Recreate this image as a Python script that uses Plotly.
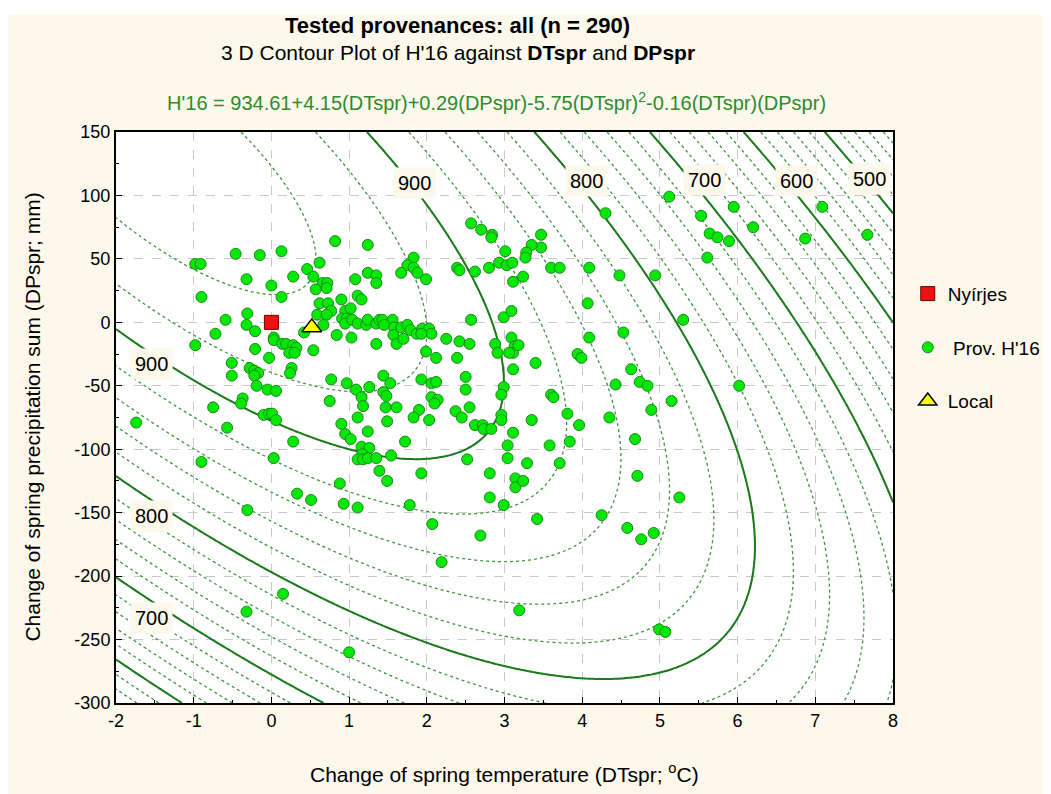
import numpy as np
import plotly.graph_objects as go

# fitted response surface: H'16 = b0 + b1*T + b2*P + b3*T^2 + b4*T*P + b5*P^2
# (the P^2 term is cut off in the printed equation; value read from the contour spacing)
surface_coefs = [934.61, 4.15, 0.29, -5.75, -0.16, -0.002]
dt_range = [-2, 8]
dp_range = [-300, 150]

x_ticks = [-2, -1, 0, 1, 2, 3, 4, 5, 6, 7, 8]
x_tick_labels = ["-2", "-1", "0", "1", "2", "3", "4", "5", "6", "7", "8"]
y_ticks = [-300, -250, -200, -150, -100, -50, 0, 50, 100, 150]
y_tick_labels = ["-300", "-250", "-200", "-150", "-100", "-50", "0", "50", "100", "150"]

# tested provenances (DTspr, DPspr)
prov_dt = [
    -0.98, -0.91, -0.46, -0.15, 0.13, 0.82, 1.24, 0.62, 0.46, -0.32,
    0.00, 0.28, 0.54, 0.66, 0.72, 0.71, 0.57, 0.13, -0.90, 1.08,
    1.24, 1.35, 1.35, 0.90, 1.11, 1.16, 0.62, 0.73, 0.77, 0.59,
    0.71, 0.95, 1.02, 0.91, 0.97, 0.95, 1.04, 1.11, 1.22, 1.24,
    1.35, -0.31, -0.59, -0.32, -0.21, 0.67, 0.84, 1.03, -0.72, -0.98,
    0.03, 0.03, 0.14, 0.19, 0.28, 0.32, 0.23, 0.30, -0.21, -0.03,
    0.54, 0.42, 1.35, 2.57, 2.70, 2.84, 2.83, 3.47, 3.47, 3.35,
    3.28, 3.27, 3.01, 1.83, 1.75, 1.83, 1.67, 1.88, 1.99, 2.39,
    2.42, 2.62, 2.80, 2.93, 3.03, 3.10, 3.11, 3.24, 3.60, 3.71,
    2.57, 2.99, 3.09, 1.39, 1.43, 1.56, 1.45, 1.58, 1.67, 1.75,
    1.79, 1.87, 1.94, 2.03, 2.06, 1.93, 1.57, 1.61, 1.70, 2.25,
    2.42, 2.55, 2.88, 2.91, 3.09, 3.13, 3.11, 3.18, 3.06, 1.99,
    2.12, 2.39, 3.40, 3.94, 5.12, 4.30, 5.53, 5.95, 5.64, 5.74,
    5.89, 6.20, 6.87, 7.09, 7.67, 4.09, 4.48, 4.94, 5.61, 4.07,
    5.30, 4.09, 4.53, 3.99, 4.63, 4.43, 4.74, 4.84, 6.02, 5.15,
    4.89, 3.81, 3.96, 3.84, 4.35, 4.68, 4.71, 5.25, 4.25, 4.58,
    4.76, 4.92, 3.71, 1.44, 1.53, 1.44, 1.48, 1.93, 2.06, 2.12,
    2.06, 2.14, 2.10, 1.47, 1.61, 1.90, 1.83, 2.03, 1.49, 2.50,
    2.50, 2.37, 2.45, 2.55, 2.62, 2.72, 2.73, 2.83, 2.96, 2.96,
    2.99, 2.96, 3.11, 3.60, 3.63, 3.11, 3.35, 1.72, 1.54, 1.39,
    2.52, 3.04, 3.04, 3.58, 3.29, 2.81, 3.14, 3.14, 3.24, 1.93,
    1.49, 2.81, 2.99, 1.78, 3.42, 3.19, 4.99, 5.07, 2.07, 2.69,
    2.19, -0.51, -0.51, -0.28, -0.22, -0.17, -0.22, -0.19, 0.26, 0.24,
    -0.05, 0.06, -0.37, -0.39, -0.75, -0.10, -0.03, 0.01, 0.06, -0.57,
    0.28, -0.90, 0.03, 0.77, 0.97, 1.09, 1.26, 1.16, 1.18, 0.75,
    1.11, 0.90, 0.95, 1.02, 1.24, 1.16, 1.26, 1.17, 1.11, 1.18,
    1.24, 1.35, 0.88, 0.33, 0.51, 0.93, 1.11, -0.31, -1.74, 0.15,
    -0.32, 1.00,
]
prov_dp = [
    46, 46, 54, 53, 56, 64, 61, 47, 42, 34,
    29, 36, 36, 31, 31, 27, 26, 20, 20, 34,
    39, 37, 31, 18, 21, 18, 15, 15, 9, 6,
    6, 9, 11, 3, 3, -1, 2, -1, -2, 2,
    -1, 7, 2, -2, -7, -2, -10, -12, -9, -18,
    -12, -14, -17, -17, -18, -20, -24, -24, -21, -28,
    -22, -8, -17, 78, 73, 69, 67, 69, 59, 61,
    55, 51, 56, 51, 45, 43, 39, 39, 34, 43,
    41, 40, 43, 47, 45, 47, 32, 36, 43, 43,
    2, 4, 9, 2, 2, 2, -2, -4, -4, -2,
    -6, -9, -5, -5, -9, -9, -10, -17, -13, -13,
    -15, -17, -17, -24, -12, -19, -24, -18, -24, -23,
    -28, -28, -32, -25, 99, 86, 84, 91, 70, 67,
    64, 75, 66, 91, 69, 43, 37, 37, 51, 15,
    2, -12, -8, -28, -37, -49, -47, -50, -50, -62,
    -69, -72, -81, -94, -75, -92, -121, -138, -152, -162,
    -171, -166, -111, -42, -48, -55, -58, -45, -48, -47,
    -59, -61, -64, -67, -67, -69, -75, -77, -78, -43,
    -53, -70, -75, -67, -81, -81, -84, -84, -73, -77,
    -51, -57, -37, -57, -59, -87, -77, -94, -105, -117,
    -108, -97, -107, -97, -111, -119, -123, -130, -125, -119,
    -125, -138, -144, -144, -155, -227, -242, -244, -159, -168,
    -189, -32, -42, -36, -38, -40, -42, -50, -36, -40,
    -53, -54, -60, -64, -67, -73, -72, -72, -77, -83,
    -94, -110, -107, -45, -48, -53, -51, -59, -66, -62,
    -75, -80, -88, -92, -86, -98, -99, -104, -108, -108,
    -107, -107, -127, -135, -140, -143, -146, -148, -79, -214,
    -228, -260,
]

nyirjes_dt = [0.0]
nyirjes_dp = [0]
local_dt = [0.52]
local_dp = [-4]

# surface grid from the fitted equation
b0, b1, b2, b3, b4, b5 = surface_coefs
gx = np.linspace(dt_range[0], dt_range[1], 201)
gy = np.linspace(dp_range[0], dp_range[1], 226)
T, P = np.meshgrid(gx, gy)
Z = b0 + b1 * T + b2 * P + b3 * T ** 2 + b4 * T * P + b5 * P ** 2

cream = "#FDF8EC"
green_line = "#1B7A1B"
font = "Liberation Sans, Arial, sans-serif"

fig = go.Figure()

# fine dotted contours every 20
fig.add_trace(go.Contour(
    x=gx, y=gy, z=Z,
    contours=dict(coloring="lines", start=400, end=960, size=20),
    line=dict(color="#3C963C", width=1.3, dash="dot"),
    colorscale=[[0, "#3C963C"], [1, "#3C963C"]],
    showscale=False, showlegend=False, hoverinfo="skip",
))
# solid contours every 100
fig.add_trace(go.Contour(
    x=gx, y=gy, z=Z,
    contours=dict(coloring="lines", start=500, end=900, size=100),
    line=dict(color=green_line, width=2),
    colorscale=[[0, green_line], [1, green_line]],
    showscale=False, showlegend=False, hoverinfo="skip",
))

fig.add_trace(go.Scatter(
    x=nyirjes_dt, y=nyirjes_dp, mode="markers", name="Nyírjes",
    legendgroup="a",
    marker=dict(symbol="square", size=14, color="#EE1111",
                line=dict(color="#6E0000", width=1)),
))
fig.add_trace(go.Scatter(
    x=prov_dt, y=prov_dp, mode="markers", name=" Prov. H'16",
    legendgroup="b",
    marker=dict(symbol="circle", size=11, color="#08E808",
                line=dict(color="#158A15", width=1)),
))
fig.add_trace(go.Scatter(
    x=local_dt, y=local_dp, mode="markers", name="Local",
    legendgroup="c",
    marker=dict(symbol="triangle-up", size=17, color="#FFFF00",
                line=dict(color="black", width=1.5)),
))

# contour level labels
contour_labels = [
    ("900", 1.84, 110), ("900", -1.54, -33), ("800", -1.54, -153),
    ("700", -1.54, -233), ("800", 4.05, 111), ("700", 5.57, 112),
    ("600", 6.76, 111), ("500", 7.70, 113),
]
for txt, lx, ly in contour_labels:
    fig.add_annotation(x=lx, y=ly, text=txt, showarrow=False,
                       xanchor="center", yanchor="middle",
                       font=dict(family=font, size=20, color="black"),
                       bgcolor=cream, borderpad=4)


def paper_text(x, y, text, size, color="black", angle=0):
    fig.add_annotation(xref="paper", yref="paper", x=x, y=y, text=text,
                       showarrow=False, xanchor="center", yanchor="middle",
                       textangle=angle, font=dict(family=font, size=size, color=color))


# titles
paper_text(0.44, 1.187, "<b>Tested provenances: all (n = 290)</b>", 22)
paper_text(0.44, 1.140, "3 D Contour Plot of H'16 against <b>DTspr</b> and <b>DPspr</b>", 21)
paper_text(0.49, 1.054,
           "H'16 = 934.61+4.15(DTspr)+0.29(DPspr)-5.75(DTspr)<sup>2</sup>-0.16(DTspr)(DPspr)",
           20, color="#2E8B2E")

# axis titles
paper_text(0.5, -0.1226, "Change of spring temperature (DTspr; <sup>o</sup>C)", 21)
paper_text(-0.108, 0.5, "Change of spring precipitation sum (DPspr; mm)", 21, angle=-90)

# white strip on top of page
fig.add_shape(type="rect", xref="paper", yref="paper", x0=-1, x1=2, y0=1.205, y1=1.3,
              fillcolor="white", line=dict(width=0), layer="below")

axis_style = dict(showgrid=True, gridcolor="#C8C8C8", griddash="dash", gridwidth=1,
                  showline=True, linecolor="black", linewidth=2, mirror=True,
                  ticks="inside", ticklen=6, tickcolor="black", zeroline=False,
                  tickfont=dict(family=font, size=18, color="black"))
fig.update_xaxes(range=dt_range, tickvals=x_ticks, ticktext=x_tick_labels,
                 minor=dict(ticks="inside", ticklen=3, dtick=0.5, tickcolor="black", showgrid=False),
                 **axis_style)
fig.update_yaxes(range=dp_range, tickvals=y_ticks, ticktext=y_tick_labels,
                 minor=dict(ticks="inside", ticklen=3, dtick=25, tickcolor="black", showgrid=False),
                 **axis_style)

fig.update_layout(
    width=1051, height=794,
    margin=dict(l=108, r=166, t=124, b=99),
    paper_bgcolor=cream, plot_bgcolor="white",
    font=dict(family=font, size=18, color="black"),
    showlegend=True,
    legend=dict(x=1.019, y=0.75, xanchor="left", yanchor="top",
                bgcolor="rgba(0,0,0,0)", tracegroupgap=26,
                font=dict(family=font, size=19, color="black")),
)

fig.write_html("out.html")
